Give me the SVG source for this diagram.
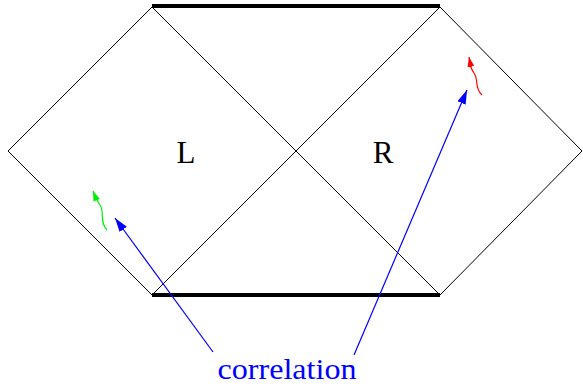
<svg xmlns="http://www.w3.org/2000/svg" width="583" height="387" viewBox="0 0 583 387">
<style>
.thin{stroke:#000;stroke-width:1;fill:none}
.thick{stroke:#000;stroke-width:4;fill:none}
.lbl{font-family:"Liberation Serif","Times New Roman",serif;fill:#000}
.blue{stroke:#0000ff;stroke-width:1.2;fill:none}
</style>
<defs>
<marker id="ab" markerUnits="userSpaceOnUse" markerWidth="14" markerHeight="9" refX="14" refY="4.5" orient="auto"><path d="M0,0 L14,4.5 L0,9 z" fill="#0000ff"/></marker>
<marker id="ag" markerUnits="userSpaceOnUse" markerWidth="10" markerHeight="7" refX="10" refY="3.5" orient="auto"><path d="M0,0 L10,3.5 L0,7 z" fill="#00ee00"/></marker>
<marker id="ar" markerUnits="userSpaceOnUse" markerWidth="10" markerHeight="7" refX="10" refY="3.5" orient="auto"><path d="M0,0 L10,3.5 L0,7 z" fill="#ff0000"/></marker>
</defs>
<g id="diagram">
<path class="thin" d="M152,7 L8,151 L152,295 M440,7 L582,151 L440,295 M152,7 L440,295 M440,7 L152,295"/>
<line class="thick" x1="152" y1="6" x2="440" y2="6"/>
<line class="thick" x1="152" y1="295" x2="440" y2="295"/>
</g>
<g id="L"><text class="lbl" x="186" y="163" font-size="31" text-anchor="middle">L</text></g>
<g id="R"><text class="lbl" x="383" y="163" font-size="31" text-anchor="middle">R</text></g>
<g id="signals">
<path d="M107,230 C99,222 105,212 100,205 S95,196 93,191" stroke="#00ee00" stroke-width="1.2" fill="none" marker-end="url(#ag)"/>
<path d="M482,95 C474,88 479,80 474,73 S470,62 469,57" stroke="#ff0000" stroke-width="1.2" fill="none" marker-end="url(#ar)"/>
</g>
<g id="connectors">
<line class="blue" x1="213" y1="352" x2="115" y2="218" marker-end="url(#ab)"/>
<line class="blue" x1="354" y1="355" x2="467" y2="90" marker-end="url(#ab)"/>
</g>
<g id="correlation"><text x="287" y="379" font-size="30" text-anchor="middle" textLength="139" lengthAdjust="spacingAndGlyphs" font-family="'Liberation Serif','Times New Roman',serif" fill="#0000ff">correlation</text></g>
</svg>
